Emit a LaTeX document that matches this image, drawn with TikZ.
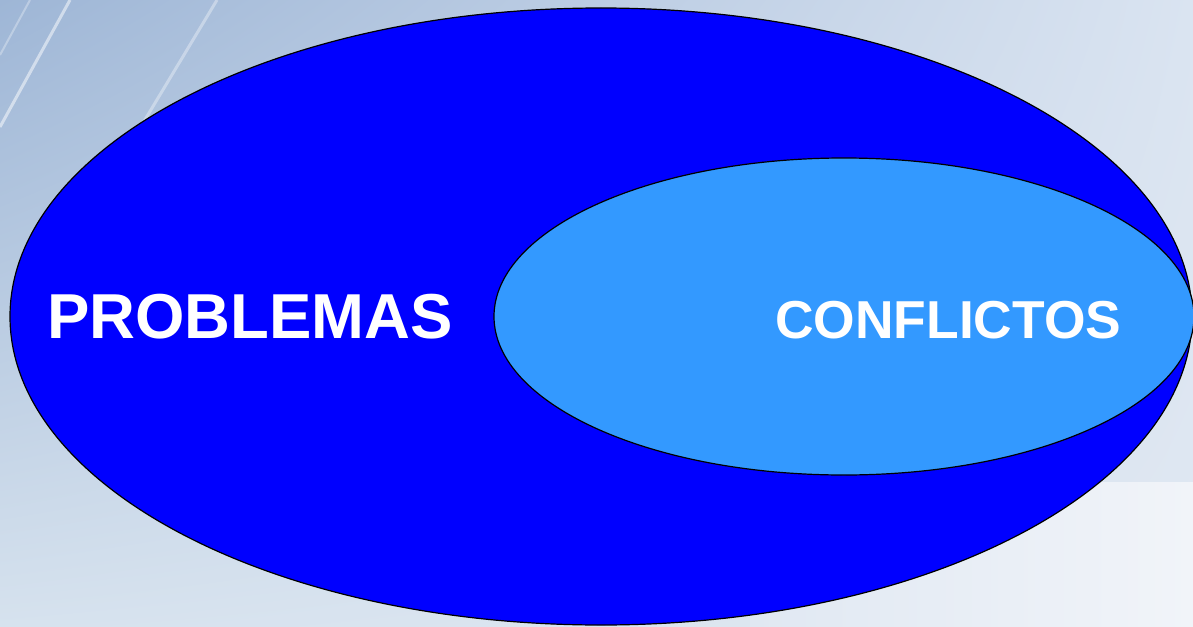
\documentclass[tikz,border=0pt]{standalone}
\usepackage{fontspec}
\setmainfont{Liberation Sans}
\usetikzlibrary{shapes.geometric,shadings}
\begin{document}
\begin{tikzpicture}[x=1pt,y=-1pt,
  outerell/.style={ellipse,draw=black,line width=1.2pt,inner sep=0pt,fill={rgb,255:red,0;green,0;blue,255},minimum width=1182pt,minimum height=617pt},
  innerell/.style={ellipse,draw=black,line width=1.2pt,inner sep=0pt,fill={rgb,255:red,51;green,153;blue,255},minimum width=700pt,minimum height=317pt},
  lbl/.style={text=white,inner sep=0pt}]
\definecolor{bgA}{RGB}{158,182,214}
\definecolor{bgB}{RGB}{218,228,241}
\definecolor{bgC}{RGB}{214,226,238}
\definecolor{bgE}{RGB}{224,232,242}
\definecolor{bgD}{RGB}{241,244,249}
\useasboundingbox (0,0) rectangle (1193,626);
\shade[upper left=bgA,upper right=bgB,lower left=bgC,lower right=bgE] (0,0) rectangle (1193,626);
\shade[left color=bgE,right color=bgD] (750,482) rectangle (1193,626);
\draw[white,opacity=0.5,line width=3pt] (70,0) -- (0,127);
\draw[white,opacity=0.35,line width=3pt] (217,0) -- (143,123);
\draw[white,opacity=0.3,line width=2pt] (30,0) -- (0,55);
\node[outerell] (outer) at (601,316.5) {};
\node[innerell] (inner) at (844,316.5) {};
\node[lbl,font=\fontsize{63.5}{64}\selectfont\bfseries,anchor=base west] (prob) at (47,338) {PROBLEMAS};
\node[lbl,font=\fontsize{53.4}{54}\selectfont\bfseries,anchor=base west] (conf) at (775,338) {CONFLICTOS};
\end{tikzpicture}
\end{document}
